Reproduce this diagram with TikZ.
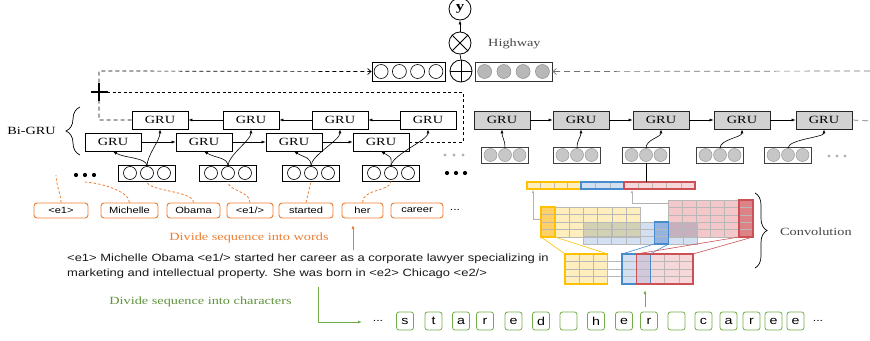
\documentclass[tikz,border=0pt]{standalone}
\usepackage{fontspec}
\setmainfont{Liberation Serif}
\newfontfamily\serifw{Liberation Serif}[FakeStretch=1.3]
\newfontfamily\sansw{Liberation Sans}[FakeStretch=1.235]
\usetikzlibrary{arrows.meta,decorations.pathreplacing,calc}

\definecolor{worange}{RGB}{237,125,49}
\definecolor{cgreen}{RGB}{112,173,71}
\definecolor{kyellow}{RGB}{255,192,0}
\definecolor{kyellowfill}{RGB}{255,238,190}
\definecolor{kyellowdeep}{RGB}{255,222,140}
\definecolor{kblue}{RGB}{70,140,205}
\definecolor{kbluefill}{RGB}{210,224,242}
\definecolor{kbluedeep}{RGB}{180,205,235}
\definecolor{kred}{RGB}{205,80,85}
\definecolor{kredfill}{RGB}{244,200,202}
\definecolor{kreddeep}{RGB}{232,168,172}
\definecolor{kmix}{RGB}{212,200,220}
\definecolor{grufill}{RGB}{210,210,210}
\definecolor{labgray}{RGB}{70,70,70}

% grid lines of a cell matrix: x0 y0 x1 y1 columns rows
\newcommand{\cellgrid}[6]{%
  \pgfmathsetmacro{\cgw}{(#3-#1)/#5}%
  \pgfmathsetmacro{\cgh}{(#4-#2)/#6}%
  \pgfmathtruncatemacro{\cgnc}{#5-1}%
  \pgfmathtruncatemacro{\cgnr}{#6-1}%
  \foreach \k in {1,...,\cgnc}{\draw[cellline] ({#1+\k*\cgw},#2) -- ({#1+\k*\cgw},#4);}%
  \foreach \k in {1,...,\cgnr}{\draw[cellline] (#1,{#2+\k*\cgh}) -- (#3,{#2+\k*\cgh});}%
}

\begin{document}
\begin{tikzpicture}[x=1pt,y=-1pt,
  every node/.style={inner sep=0pt},
  gru/.style={draw, line width=0.8pt, minimum width=56pt, minimum height=18pt,
    font=\serifw\fontsize{11}{12}\selectfont},
  grug/.style={gru, fill=grufill, draw=black!85},
  vbox/.style={draw, line width=0.8pt, minimum height=16pt},
  wc/.style={circle, draw, line width=0.6pt, minimum size=13pt},
  gc/.style={circle, draw=black!40, fill=black!22, line width=0.5pt, minimum size=13pt},
  arr/.style={-{Latex[length=4pt,width=3pt]}, line width=0.6pt},
  word/.style={draw=worange, rounded corners=3pt, line width=0.9pt, minimum height=15pt,
    font=\sansw\fontsize{9}{10}\selectfont},
  chr/.style={draw=cgreen, rounded corners=2.5pt, line width=0.8pt, minimum width=17pt,
    minimum height=18pt, font=\sansw\fontsize{11.5}{12}\selectfont},
  odash/.style={draw=worange, dash pattern=on 2.5pt off 2pt, line width=0.8pt},
  bdash/.style={dash pattern=on 4pt off 3pt, line width=0.7pt},
  gdash/.style={draw=black!55, dash pattern=on 6pt off 4pt, line width=0.7pt},
  barb/.style={-{Straight Barb[length=3.5pt,width=6pt]}},
  cellline/.style={draw=black!28, line width=0.4pt},
  lab/.style={font=\serifw\fontsize{11}{12}\selectfont, text=labgray},
]
\useasboundingbox (0,0) rectangle (870,340);

% ---------------- output: highway ----------------
\node[circle, draw, line width=0.8pt, minimum size=22pt,
  font=\serifw\bfseries\fontsize{13}{13}\selectfont] (y) at (460,9) {y};
\node[circle, draw, line width=0.8pt, minimum size=22pt] (otimes) at (460,43) {};
\draw[line width=0.8pt] (otimes.north west) -- (otimes.south east)
  (otimes.north east) -- (otimes.south west);
\node[circle, draw, line width=0.8pt, minimum size=22pt] (oplus) at (461,71) {};
\draw[line width=0.8pt] (oplus.north) -- (oplus.south) (oplus.west) -- (oplus.east);
\draw[line width=0.7pt] (oplus.north) -- (otimes.south);
\draw[arr] (otimes.north) -- (y.south);
\node[lab, anchor=base west] (hwy) at (488,46) {Highway};

\node[vbox, minimum width=73pt, minimum height=19pt] (hl) at (408.5,71.5) {};
\foreach \d [count=\i] in {-27.4,-9.1,9.1,27.4}
  \node[wc, minimum size=14pt] (hl-\i) at (408.5+\d,71.5) {};
\node[vbox, draw=black!80, minimum width=77pt, minimum height=19pt] (hr) at (513.5,71.5) {};
\foreach \d [count=\i] in {-28.9,-9.6,9.6,28.9}
  \node[gc, minimum size=14pt, fill=black!28, draw=black!45] (hr-\i) at (513.5+\d,71.5) {};

% ---------------- word level Bi-GRU ----------------
\foreach \x [count=\i] in {160,251,340,428}
  \node[gru] (bg\i) at (\x,120) {GRU};
\foreach \x [count=\i] in {113,204,294,381}
  \node[gru] (fg\i) at (\x,142) {GRU};
\foreach \i/\j in {1/2,2/3,3/4} {
  \draw[arr] (fg\i.east) -- (fg\j.west);
  \draw[arr] (bg\j.west) -- (bg\i.east);
}

\foreach \x [count=\i] in {147,228,311,391} {
  \node[vbox, minimum width=57pt] (wv\i) at (\x,173) {};
  \node[wc] (wv\i-a) at (\x-17,173) {};
  \node[wc] (wv\i-b) at (\x,173) {};
  \node[wc] (wv\i-c) at (\x+17,173) {};
  \draw[arr] (wv\i-b.north) .. controls +(0,-9) and +(12,7) .. (fg\i.south);
  \draw[arr] (wv\i-b.north) .. controls +(0,-11) and +(0,11) .. (bg\i.south);
}

% dashed skip paths into the highway
\coordinate (cl) at (99,71);
\coordinate (cr) at (463,92);
\coordinate (plus) at (99,92);
\draw[bdash, barb] (bg1.west) -| (cl) -- (hl.west);
\draw[bdash, dash pattern=on 3pt off 2.5pt] (fg4.east) -| (cr) -- (plus);
\draw[line width=1.4pt] (91,92) -- (108,92) (99,83) -- (99,101);

\draw[decorate, decoration={brace, amplitude=14pt}, line width=0.7pt]
  (80,155) -- (80,107);
\node[font=\serifw\fontsize{11}{12}\selectfont, anchor=base east] (bigru) at (56,134) {Bi-GRU};

% ellipses
\foreach \x in {76,85,94} \fill (\x,175) circle (2.1pt);
\foreach \x in {447,456,465} \fill (\x,173) circle (2.1pt);
\foreach \x in {445,454,463} \fill[black!30] (\x,155) circle (1.6pt);
\foreach \x in {829,837,845} \fill[black!30] (\x,156) circle (1.6pt);

% ---------------- word boxes ----------------
\node[word, minimum width=54pt] (w1) at (61,210.5) {<e1>};
\node[word, minimum width=57pt] (w2) at (129.5,210.5) {Michelle};
\node[word, minimum width=53pt] (w3) at (193.5,210.5) {Obama};
\node[word, minimum width=46pt] (w4) at (250,210.5) {<e1/>};
\node[word, minimum width=54pt] (w5) at (306,210.5) {started};
\node[word, minimum width=41pt] (w6) at (362.5,210.5) {her};
\node[word, minimum width=52pt] (w7) at (417,210.5) {career};
\node[font=\sansw\fontsize{10}{10}\selectfont] (wdots) at (455,210) {...};

\coordinate (e1end) at (56,175);
\coordinate (miend) at (83,182);
\draw[odash] (w1.north) .. controls +(0,-8) and +(0,10) .. (e1end);
\draw[odash] (w2.north) .. controls +(0,-12) and +(14,0) .. (miend);
\draw[odash] (w3.north) .. controls +(0,-12) and +(0,10) .. (wv1.south);
\draw[odash] (w4.north) .. controls +(0,-12) and +(0,10) .. (wv2.south);
\draw[odash] (w5.north) -- (wv3.south);
\draw[odash] (w6.north) .. controls +(0,-14) and +(0,10) .. (wv4.south);

\node[font=\serifw\fontsize{11}{12}\selectfont, text=worange, anchor=base] (divw) at (249,240)
  {Divide sequence into words};
\coordinate (wa0) at (353,250);
\coordinate (wa1) at (353,225);
\draw[-{Latex[length=4pt,width=3pt]}, draw=worange, line width=0.9pt] (wa0) -- (wa1);

% ---------------- sentence ----------------
\node[font=\sansw\fontsize{10.5}{12}\selectfont, text=black!90, anchor=base west] (s1) at (67,261.7)
  {<e1> Michelle Obama <e1/> started her career as a corporate lawyer specializing in};
\node[font=\sansw\fontsize{10.5}{12}\selectfont, text=black!90, anchor=base west] (s2) at (67,276)
  {marketing and intellectual property. She was born in <e2> Chicago <e2/>};

\node[font=\serifw\fontsize{11}{12}\selectfont, text=cgreen!85!black, anchor=base] (divc) at (200.5,304)
  {Divide sequence into characters};
\coordinate (ga0) at (318,287);
\coordinate (ga1) at (318,322);
\draw[-{Latex[length=4pt,width=3pt]}, draw=cgreen, line width=0.8pt] (ga0) -- (ga1) -- (362,322);

% ---------------- characters ----------------
\node[font=\sansw\fontsize{10}{10}\selectfont] (cdots0) at (378,321) {...};
\foreach \x/\c [count=\i] in {405/s,433.5/t,461/a,485/r,513.5/e,541/d,568.5/{},596/h,624/e,
    649/r,676.5/{},703.5/c,728.5/a,751.5/r,773.5/e,795.5/e}
  \node[chr] (ch\i) at (\x,321) {\c};
\node[font=\sansw\fontsize{10}{10}\selectfont] (cdots1) at (818,321) {...};
\coordinate (ca0) at (645,307);
\coordinate (ca1) at (645,290);
\draw[-{Latex[length=4pt,width=3pt]}, draw=cgreen, line width=0.8pt] (ca0) -- (ca1);

% ---------------- character level GRU ----------------
\foreach \x [count=\i] in {502,581,661,742,824}
  \node[grug] (rg\i) at (\x,120) {GRU};
\foreach \i/\j in {1/2,2/3,3/4,4/5}
  \draw[arr] (rg\i.east) -- (rg\j.west);
\coordinate (rout) at (870,121);
\draw[gdash] (rg5.east) -- (rout);
\coordinate (rin) at (870,71);
\draw[gdash, barb] (rin) -- (hr.east);

\foreach \x [count=\i] in {505,577,646,720,788} {
  \node[vbox, draw=black!75, minimum width=47pt] (cv\i) at (\x,155) {};
  \node[gc] (cv\i-a) at (\x-14.5,155) {};
  \node[gc] (cv\i-b) at (\x,155) {};
  \node[gc] (cv\i-c) at (\x+14.5,155) {};
}
\foreach \i in {1,...,5}
  \draw[arr] (cv\i-b.north) .. controls +(0,-9) and +(0,8) .. (rg\i.south);

% ---------------- convolution ----------------
% pooled feature vector
\fill[kyellowfill] (527,182) rectangle (581,189);
\fill[kbluefill] (581,182) rectangle (624,189);
\fill[kredfill!70] (624,182) rectangle (695,189);
\foreach \xx in {540.5,554,567.5,595.3,609.7,638.2,652.4,666.6,680.8}
  \draw[cellline] (\xx,182) -- (\xx,189);
\draw[kyellow, line width=1.1pt] (527,182) rectangle (581,189);
\draw[kblue, line width=1.1pt] (581,182) rectangle (624,189);
\draw[kred, line width=1.1pt] (624,182) rectangle (695,189);
\coordinate (cvtop) at (646,182);
\draw[line width=0.7pt] (cv3.south) -- (cvtop);

% feature maps, overlapping with multiply blending
\begin{scope}[blend group=multiply]
\fill[kyellowfill] (541,207) rectangle (640,237);
\fill[kbluefill] (583,222) rectangle (697,244);
\fill[kredfill] (668,200) rectangle (753,237);
\fill[kyellowdeep] (541,207) rectangle (555,237);
\fill[kbluedeep] (654.25,222) rectangle (668.5,244);
\fill[kreddeep] (739,200) rectangle (753,237);
\end{scope}
\cellgrid{541}{207}{640}{237}{7}{4}
\cellgrid{583}{222}{697}{244}{8}{3}
\cellgrid{668}{200}{753}{237}{6}{5}
\draw[cellline] (541,207) rectangle (640,237) (583,222) rectangle (697,244)
  (668,200) rectangle (753,237);
\draw[kyellow, line width=1.2pt] (541,207) rectangle (555,237);
\draw[kblue, line width=1.2pt] (654.25,222) rectangle (668.5,244);
\draw[kred, line width=1.2pt] (739,200) rectangle (753,237);

% pooling links
\draw[black!30, line width=0.6pt, -{Latex[length=3pt,width=2.5pt]}] (541,219) -- (533,219) -- (533,190);
\draw[black!30, line width=0.6pt, -{Latex[length=3pt,width=2.5pt]}] (668,203) -- (632,203) -- (632,190);

% character embedding matrix
\fill[kyellowfill] (565,254) rectangle (607.7,284);
\fill[white] (607.7,254) rectangle (622,284);
\fill[kbluefill] (622,254) rectangle (636.2,284);
\fill[kmix] (636.2,254) rectangle (650.4,284);
\fill[kredfill!70] (650.4,254) rectangle (693,284);
\cellgrid{565}{254}{693}{284}{9}{4}
\draw[kyellow, line width=1.2pt] (565,254) rectangle (607.7,284);
\draw[kblue, line width=1.2pt] (622,254) rectangle (650.4,284);
\draw[kred, line width=1.2pt] (636.2,254) rectangle (693,284);

% window to feature links
\draw[kyellow, line width=0.6pt] (541,237) -- (565,254) (555,237) -- (607.7,254);
\draw[kblue, line width=0.6pt] (654.25,244) -- (622,254) (668.5,244) -- (650.4,254);
\draw[kred, line width=0.6pt] (739,237) -- (636.2,254) (753,237) -- (693,254);

\draw[decorate, decoration={brace, amplitude=12pt}, line width=0.7pt]
  (755,193) -- (755,268);
\node[lab, anchor=base west] (conv) at (780,235) {Convolution};

\end{tikzpicture}
\end{document}
